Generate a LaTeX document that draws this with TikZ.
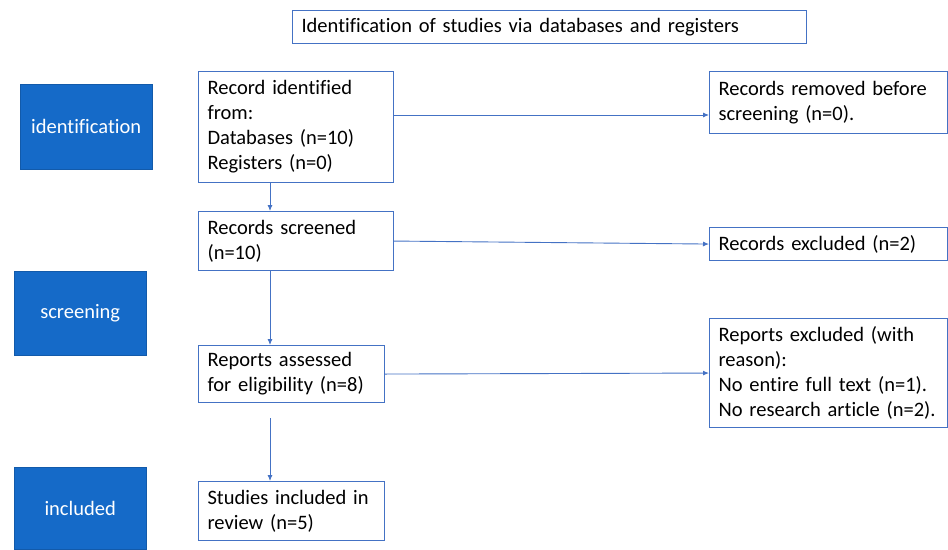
\documentclass[tikz,border=0pt]{standalone}
\usepackage{fontspec}
\setmainfont[Ligatures=NoCommon,WordSpace=0.85]{Carlito}
\usetikzlibrary{arrows.meta}
\definecolor{stageblue}{RGB}{21,106,200}
\definecolor{linkblue}{RGB}{68,114,196}

\begin{document}
\begin{tikzpicture}[x=1pt,y=-1pt,
 box/.style={draw=linkblue,line width=1.1pt,anchor=north west,align=left,inner xsep=9pt,inner ysep=0pt,font=\fontsize{20.5}{25}\selectfont},
 stage/.style={fill=stageblue,draw=stageblue!85!black,anchor=north west,minimum width=132pt,text=white,font=\fontsize{20.5}{24}\selectfont},
 link/.style={draw=linkblue,line width=0.9pt,-{Latex[length=6pt,width=5pt]}}]
\useasboundingbox (0,0) rectangle (948,549);
% title and stages
\node[box,text width=496pt,minimum height=33pt] (title) at (292,10) {Identification of studies via databases and registers};
\node[stage,minimum height=85pt] (identification) at (20,84) {identification};
\node[stage,minimum height=84pt] (screening) at (14,271) {screening};
\node[stage,minimum height=82pt] (included) at (14,467) {included};
% main column
\node[box,text width=177pt,minimum height=111pt] (ident) at (198,71) {Record identified\\from:\\Databases (n=10)\\Registers (n=0)};
\node[box,text width=177pt,minimum height=59pt] (screened) at (198,211) {Records screened\\(n=10)};
\node[box,text width=168pt,minimum height=57pt] (assessed) at (198,345) {Reports assessed\\for eligibility (n=8)};
\node[box,text width=168pt,minimum height=59pt] (studies) at (198,481) {Studies included in\\review (n=5)};
% right column
\node[box,text width=220pt,minimum height=62pt] (removed) at (709,71) {Records removed before\\screening (n=0).};
\node[box,text width=220pt,minimum height=33pt] (excluded) at (709,227) {Records excluded (n=2)};
\node[box,text width=220pt,minimum height=109pt] (reasons) at (709,318) {Reports excluded (with\\reason):\\No entire full text (n=1).\\No research article (n=2).};
% connectors
\coordinate (spine) at (270,0);
\coordinate (gap) at (270,418);
\draw[link] (ident.east |- 0,115) -- (removed.west |- 0,115);
\draw[link] (screened.east) -- (excluded.west);
\draw[link] (assessed.east) -- (reasons.west);
\draw[link] (ident.south -| spine) -- (screened.north -| spine);
\draw[link] (screened.south -| spine) -- (assessed.north -| spine);
\draw[link] (gap) -- (studies.north -| gap);
\end{tikzpicture}
\end{document}
